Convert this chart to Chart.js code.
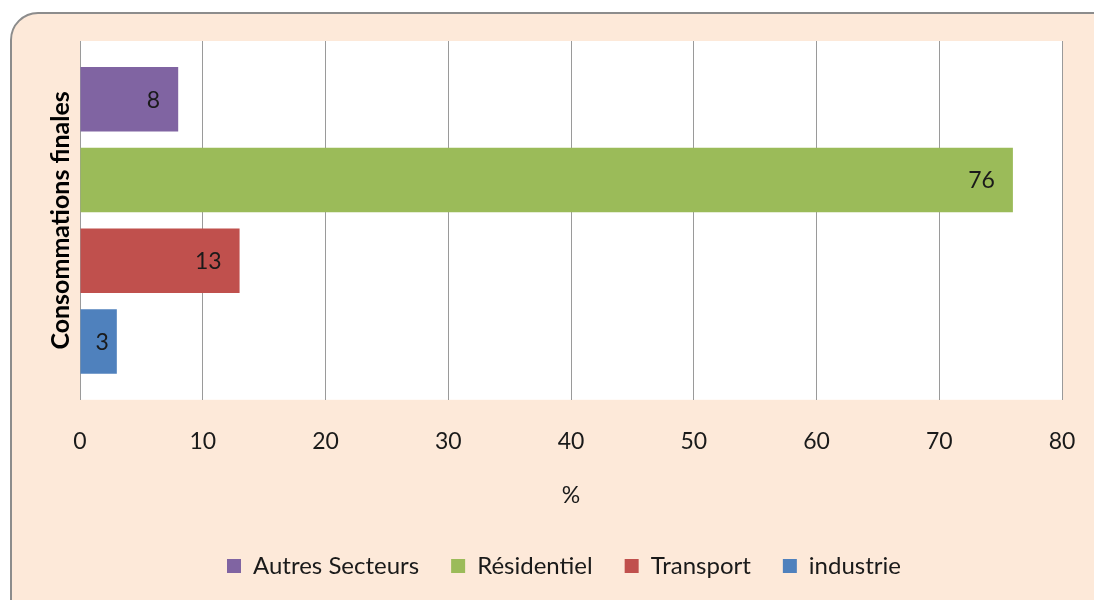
<!DOCTYPE html>
<html lang="fr">
<head>
	<meta charset="utf-8">
	<title>Consommations finales</title>
	<script src="https://cdn.jsdelivr.net/npm/chart.js@4.4.0/dist/chart.umd.min.js"></script>
	<style>
		html, body { margin: 0; padding: 0; background: #ffffff; overflow: hidden; }
		.frame {
			position: absolute; left: 10px; top: 12px; width: 1120px; height: 620px;
			background: #fde9d9; border: 2px solid #8c8c8c; border-radius: 28px;
		}
		#chart-0 { position: absolute; left: 0; top: 0; }
	</style>
</head>
<body>
	<div class="frame"></div>
	<canvas id="chart-0" width="1094" height="600"></canvas>

	<script>
		var categories = ['Consommations finales'];
		var seriesNames = ['Autres Secteurs', 'Résidentiel', 'Transport', 'industrie'];
		var seriesValues = [[8], [76], [13], [3]];
		var seriesColors = ['#8064a2', '#9bbb59', '#c0504d', '#4f81bd'];
		var xTicks = [0, 10, 20, 30, 40, 50, 60, 70, 80];

		var font = 'Lato, "Open Sans", sans-serif';

		// white plot area
		var plotBg = {
			id: 'plotBg',
			beforeDraw: function (chart) {
				var a = chart.chartArea, ctx = chart.ctx;
				ctx.save();
				ctx.fillStyle = '#ffffff';
				ctx.fillRect(a.left, a.top, a.right - a.left, a.bottom - a.top);
				ctx.restore();
			}
		};

		// legend is centred on the whole frame, not the padded box
		var legendShift = {
			id: 'legendShift',
			afterLayout: function (chart) {
				chart.legend.left += 12;
				chart.legend.right += 12;
			}
		};

		// value labels at the inside end of bars (kept off the axis for short bars)
		var valueLabels = {
			id: 'valueLabels',
			afterDatasetsDraw: function (chart) {
				var ctx = chart.ctx;
				ctx.save();
				ctx.font = '23px ' + font;
				ctx.fillStyle = '#1a1a1a';
				ctx.textAlign = 'right';
				ctx.textBaseline = 'middle';
				chart.data.datasets.forEach(function (ds, i) {
					chart.getDatasetMeta(i).data.forEach(function (bar, j) {
						var txt = String(ds.data[j]);
						var w = ctx.measureText(txt).width;
						var x = Math.max(bar.x - 18, bar.base + w + 15);
						ctx.fillText(txt, x, bar.y + 1);
					});
				});
				ctx.restore();
			}
		};

		var datasets = seriesNames.map(function (name, i) {
			return {
				label: name,
				data: seriesValues[i],
				backgroundColor: seriesColors[i],
				borderWidth: 0,
				categoryPercentage: 0.9,
				barPercentage: 0.8
			};
		});

		var chart = new Chart('chart-0', {
			type: 'bar',
			data: { labels: categories, datasets: datasets },
			options: {
				indexAxis: 'y',
				responsive: false,
				animation: false,
				layout: { padding: { left: 42, right: 32, top: 41, bottom: 12 } },
				scales: {
					x: {
						min: 0,
						max: 80,
						afterBuildTicks: function (axis) {
							axis.ticks = xTicks.map(function (v) { return { value: v }; });
						},
						afterFit: function (axis) {
							// tick padding should not widen the right margin
							axis.paddingRight = 0;
						},
						grid: { color: '#9a9a9a', drawTicks: false, lineWidth: 1 },
						border: { display: false },
						ticks: { padding: 28, color: '#1a1a1a', font: { family: font, size: 23 } },
						title: { display: true, text: '%', color: '#1a1a1a', padding: { top: -2, bottom: 13 }, font: { family: font, size: 23 } }
					},
					y: {
						grid: { display: false, drawTicks: false },
						border: { display: true, color: '#9a9a9a' },
						ticks: { display: false },
						title: { display: true, text: categories[0], color: '#000000', padding: 4, font: { family: font, size: 25, weight: 'bold' } }
					}
				},
				plugins: {
					tooltip: { enabled: false },
					legend: {
						position: 'bottom',
						labels: {
							color: '#1a1a1a',
							boxWidth: 14,
							boxHeight: 14,
							padding: 32,
							font: { family: font, size: 24 }
						}
					}
				}
			},
			plugins: [plotBg, legendShift, valueLabels]
		});
	</script>
</body>
</html>
